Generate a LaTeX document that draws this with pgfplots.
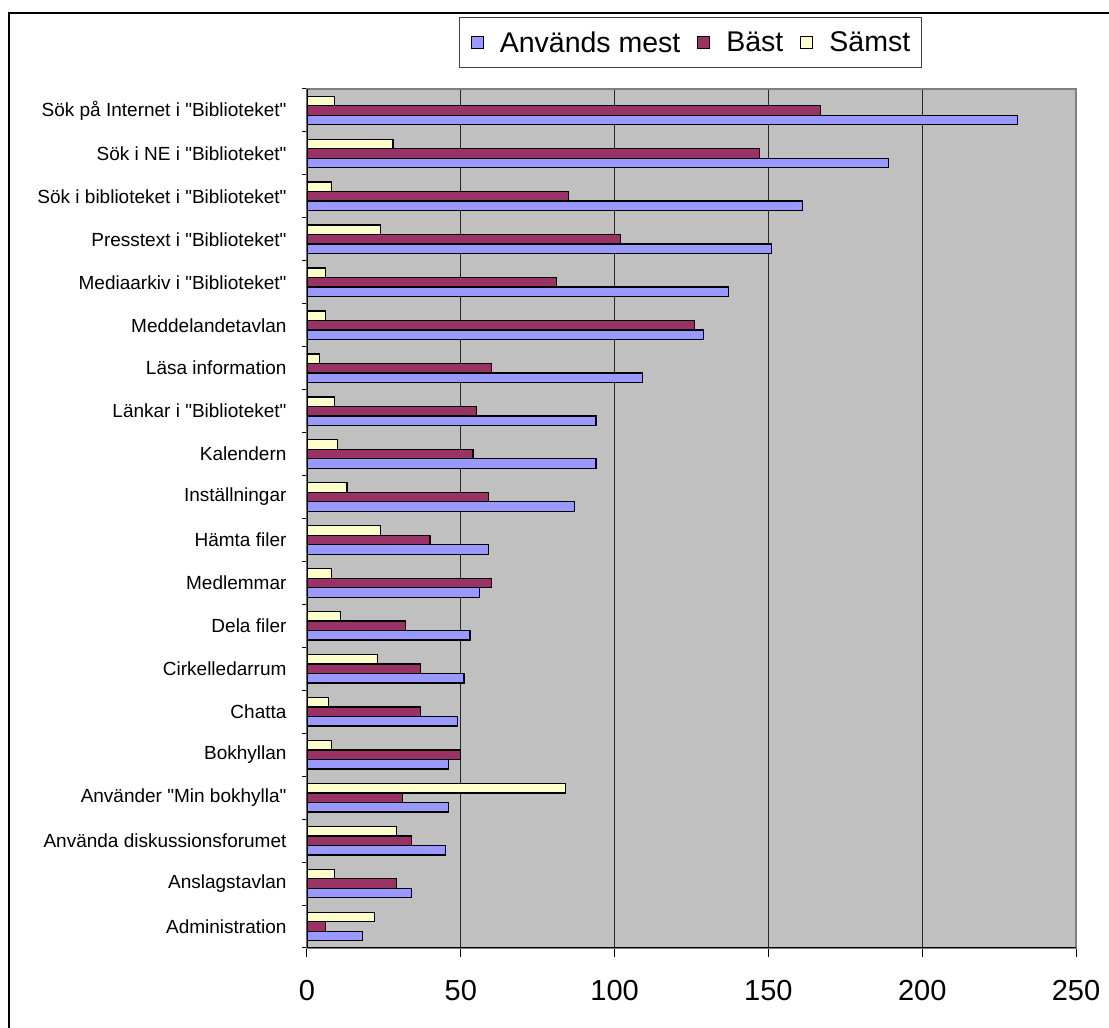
\documentclass[border=0pt]{standalone}
\usepackage{pgfplots}
\pgfplotsset{compat=1.18}
\usepackage{fontspec}
\setmainfont{Liberation Sans}
% plain font without the TeX mapping, so " stays a straight quote
\font\labfont="Liberation Sans" at 19pt
\definecolor{cuse}{HTML}{9999FF}
\definecolor{cbest}{HTML}{993366}
\definecolor{cworst}{HTML}{FFFFCC}
\definecolor{plotbg}{HTML}{C0C0C0}
\definecolor{edgegray}{HTML}{808080}

\begin{document}
\begin{tikzpicture}
\path[use as bounding box] (-307pt,-80pt) rectangle (802pt,948pt);
\begin{axis}[
  at={(0pt,0pt)}, anchor=south west,
  scale only axis, width=769pt, height=859pt,
  xbar, bar width=9.5pt,
  xmin=0, xmax=250, ymin=-0.5, ymax=19.5,
  xtick={0,50,...,250},
  ytick={0,...,19},
  yticklabels={Administration, Anslagstavlan, Använda diskussionsforumet,
    Använder "Min bokhylla", Bokhyllan, Chatta, Cirkelledarrum, Dela filer,
    Medlemmar, Hämta filer, Inställningar, Kalendern, Länkar i "Biblioteket",
    Läsa information, Meddelandetavlan, Mediaarkiv i "Biblioteket",
    Presstext i "Biblioteket", Sök i biblioteket i "Biblioteket",
    Sök i NE i "Biblioteket", Sök på Internet i "Biblioteket"},
  minor ytick={-0.5,0.5,...,19.5},
  xtick pos=left, ytick pos=left,
  tick align=outside,
  major tick length=9pt, minor tick length=5pt,
  major y tick style={draw=none},
  every tick/.append style={black, line width=1pt},
  xmajorgrids,
  major grid style={black!85, line width=1pt},
  axis background/.style={fill=plotbg},
  axis line style={edgegray, line width=1.3pt},
  /pgf/number format/assume math mode=true,
  xticklabel style={font=\fontsize{29}{34}\selectfont, yshift=-20pt},
  yticklabel style={font=\labfont, xshift=-8pt},
  legend columns=3,
  legend image code/.code={\draw[#1, line width=1pt] (0pt,-6pt) rectangle (12pt,6pt);},
  legend style={at={(0.4987,1.0541)}, anchor=center, draw=black!75, line width=0.8pt,
    font=\fontsize{28.5}{34}\selectfont,
    nodes={inner sep=0pt},
    inner xsep=11pt, inner ysep=14pt,
    /tikz/every odd column/.append style={column sep=16pt},
    /tikz/every even column/.append style={column sep=17pt}},
]
\addplot[fill=cuse, draw=black, line width=1.3pt, bar shift=-9.5pt] coordinates {
  (18,0) (34,1) (45,2) (46,3) (46,4) (49,5) (51,6) (53,7) (56,8) (59,9)
  (87,10) (94,11) (94,12) (109,13) (129,14) (137,15) (151,16) (161,17) (189,18) (231,19)};
\addplot[fill=cbest, draw=black, line width=1.3pt, bar shift=0pt] coordinates {
  (6,0) (29,1) (34,2) (31,3) (50,4) (37,5) (37,6) (32,7) (60,8) (40,9)
  (59,10) (54,11) (55,12) (60,13) (126,14) (81,15) (102,16) (85,17) (147,18) (167,19)};
\addplot[fill=cworst, draw=black, line width=1.3pt, bar shift=9.5pt] coordinates {
  (22,0) (9,1) (29,2) (84,3) (8,4) (7,5) (23,6) (11,7) (8,8) (24,9)
  (13,10) (10,11) (9,12) (4,13) (6,14) (6,15) (24,16) (8,17) (28,18) (9,19)};
\legend{Används mest, Bäst, Sämst}
\draw[black, line width=1.3pt] (rel axis cs:0,1) -- (rel axis cs:0,0) -- (rel axis cs:1,0);
\end{axis}
\draw[black, line width=1.3pt] (-298pt,-90pt) -- (-298pt,935pt) -- (810pt,935pt);
\end{tikzpicture}
\end{document}
